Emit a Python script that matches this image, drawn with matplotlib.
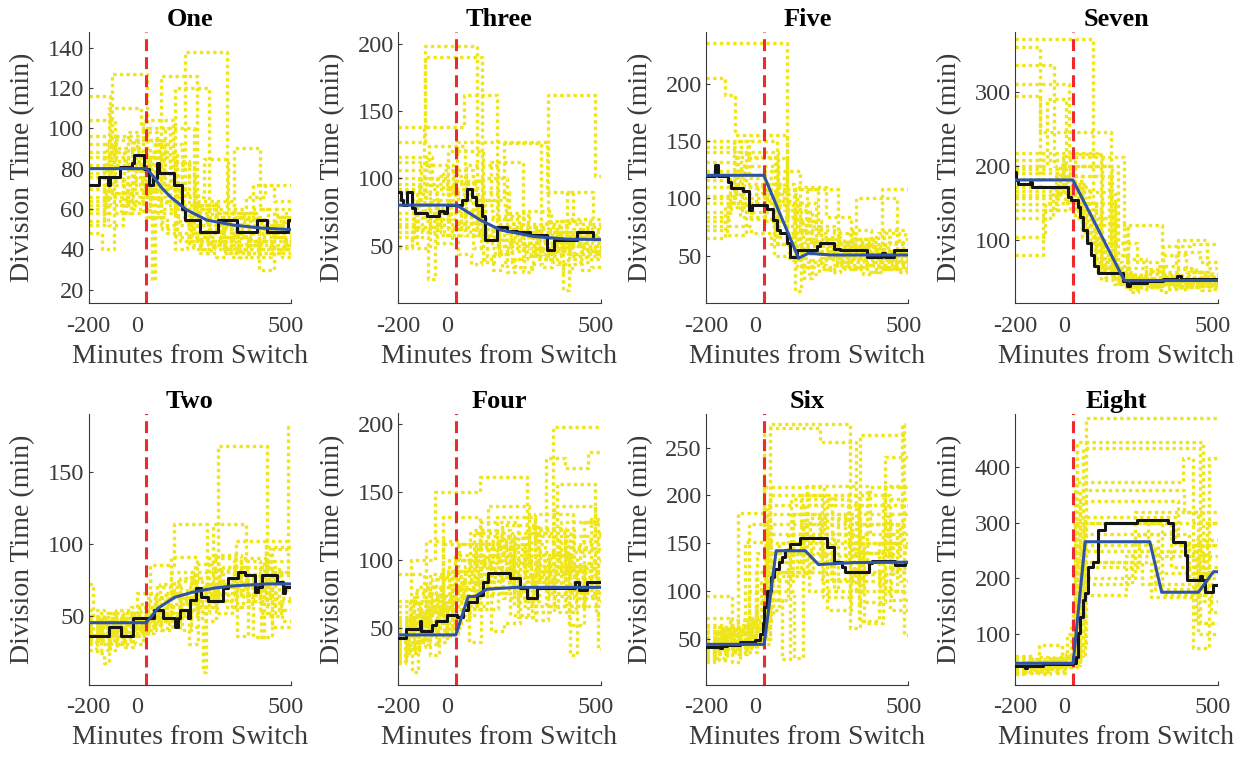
import matplotlib
matplotlib.use('Agg')
import matplotlib.pyplot as plt
import matplotlib.transforms as mtransforms

plt.rcParams['font.family'] = ['Liberation Serif', 'DejaVu Serif']

YELLOW = '#EEE51A'
RED = '#EE2A2F'
BLACK = '#151515'
BLUE = '#2F54A5'
AXCOL = '#3a3a3a'

# panel order: row 1 = One, Three, Five, Seven ; row 2 = Two, Four, Six, Eight
TITLES = ['One', 'Three', 'Five', 'Seven', 'Two', 'Four', 'Six', 'Eight']
YLIMS = [(13.4, 147.7), (7.3, 208.6), (8.6, 245), (14.6, 381),
         (2, 190.6), (8.5, 208), (2, 285.6), (8.8, 497)]
YTICKS = [[20, 40, 60, 80, 100, 120, 140], [50, 100, 150, 200], [50, 100, 150, 200], [100, 200, 300],
          [50, 100, 150], [50, 100, 150, 200], [50, 100, 150, 200, 250], [100, 200, 300, 400]]
XTICKS = [-200, 0, 500]
XTICKLABELS = ['-200', '0', '500']
SWITCH = 0

# single cell division-time traces, (minute, division time) step starts
ONE_CELLS = [
    [(-200, 116), (-124, 96), (-30, 82), (50, 60), (110, 52), (162, 48), (210, 44), (255, 46), (300, 42), (345, 44), (390, 40), (430, 42), (472, 38), (500, 38)],
    [(-200, 104), (-110, 88), (-22, 72), (50, 126), (176, 64), (240, 58), (298, 52), (350, 56), (406, 50), (456, 48), (500, 48)],
    [(-200, 60), (-140, 74), (-66, 64), (-2, 56), (54, 50), (104, 54), (158, 46), (204, 50), (254, 44), (298, 48), (346, 44), (390, 46), (436, 40), (476, 44), (500, 44)],
    [(-200, 48), (-152, 40), (-112, 64), (-48, 70), (20, 25), (30, 92), (122, 58), (180, 60), (240, 52), (292, 36), (328, 58), (386, 54), (440, 60), (500, 60)],
    [(-200, 86), (-118, 127), (2, 66), (68, 62), (130, 56), (186, 62), (248, 54), (302, 90), (392, 60), (452, 56), (500, 56)],
    [(-200, 70), (-130, 110), (-20, 100), (80, 64), (134, 138), (278, 58), (336, 52), (388, 30), (440, 50), (490, 48), (500, 48)],
    [(-200, 96), (-104, 84), (-20, 80), (60, 72), (132, 66), (198, 85), (283, 60), (343, 66), (409, 72), (500, 72)],
    [(-200, 54), (-146, 58), (-88, 62), (-26, 66), (40, 58), (98, 120), (218, 56), (274, 50), (324, 46), (370, 72), (442, 64), (500, 64)],
    [(-200, 78), (-122, 90), (-32, 94), (62, 84), (146, 44), (190, 40), (230, 42), (272, 38), (310, 40), (350, 36), (386, 42), (428, 38), (466, 40), (500, 40)],
    [(-200, 66), (-134, 52), (-82, 76), (-6, 70), (64, 100), (164, 48), (212, 52), (264, 46), (310, 50), (360, 44), (404, 48), (452, 46), (500, 46)],
    [(-200, 92), (-108, 72), (-36, 86), (50, 52), (102, 46), (148, 42), (190, 46), (236, 40), (276, 44), (320, 40), (360, 42), (402, 38), (440, 44), (484, 42), (500, 42)],
    [(-200, 62), (-138, 68), (-70, 58), (-12, 104), (92, 76), (168, 60), (228, 56), (284, 58), (342, 54), (396, 52), (448, 56), (500, 56)],
    [(-200, 72), (-128, 82), (-46, 60), (14, 70), (84, 82), (166, 54), (220, 48), (268, 52), (320, 58), (378, 50), (428, 52), (480, 54), (500, 54)],
    [(-200, 58), (-142, 66), (-76, 90), (14, 56), (70, 48), (118, 44), (162, 40), (202, 38), (240, 36), (276, 42), (318, 36), (354, 40), (394, 36), (430, 38), (468, 36), (500, 36)],
    [(-200, 82), (-118, 68), (-50, 94), (44, 70), (114, 62), (176, 44), (220, 50), (270, 40), (310, 46), (356, 42), (398, 44), (442, 40), (482, 42), (500, 42)],
    [(-200, 52), (-148, 86), (-62, 80), (18, 88), (106, 48), (154, 58), (212, 42), (254, 50), (304, 46), (350, 38), (388, 50), (438, 46), (484, 44), (500, 44)],
    [(-200, 76), (-124, 62), (-62, 98), (36, 64), (100, 56), (156, 52), (208, 60), (268, 46), (314, 52), (366, 48), (414, 54), (468, 50), (500, 50)],
    [(-200, 64), (-136, 94), (-42, 74), (32, 78), (110, 68), (178, 62), (240, 64), (304, 56), (360, 60), (420, 52), (472, 58), (500, 58)],
    [(-200, 88), (-112, 58), (-54, 68), (14, 86), (100, 40), (140, 46), (186, 38), (224, 44), (268, 40), (308, 38), (346, 42), (388, 44), (432, 46), (478, 40), (500, 40)],
]
THREE_CELLS = [
    [(-200, 138), (-107, 198), (72, 60), (132, 54), (186, 50), (236, 56), (292, 46), (338, 52), (390, 44), (434, 48), (482, 50), (500, 50)],
    [(-200, 127), (-107, 190), (89, 56), (145, 50), (195, 48), (243, 44), (287, 58), (345, 46), (391, 50), (441, 42), (483, 46), (500, 46)],
    [(-200, 90), (-110, 138), (28, 162), (141, 66), (207, 60), (267, 54), (321, 60), (381, 52), (433, 56), (489, 48), (500, 48)],
    [(-200, 100), (-100, 96), (3, 127), (315, 90), (405, 66), (471, 62), (500, 62)],
    [(-200, 60), (-140, 74), (-66, 52), (-14, 66), (52, 76), (128, 70), (198, 62), (260, 58), (318, 162), (480, 102), (500, 102)],
    [(-200, 48), (-152, 56), (-96, 25), (-72, 58), (-14, 64), (50, 58), (108, 52), (160, 58), (218, 52), (270, 46), (316, 56), (372, 17), (390, 60), (450, 56), (500, 56)],
    [(-200, 80), (-120, 110), (-10, 88), (78, 70), (148, 46), (194, 40), (234, 34), (268, 42), (310, 40), (350, 36), (386, 44), (430, 38), (468, 40), (500, 40)],
    [(-200, 70), (-130, 64), (-66, 102), (36, 84), (120, 112), (232, 60), (292, 66), (358, 54), (412, 58), (470, 52), (500, 52)],
    [(-200, 116), (-84, 92), (8, 76), (84, 62), (146, 50), (196, 56), (252, 48), (300, 44), (344, 50), (394, 42), (436, 46), (482, 44), (500, 44)],
    [(-200, 56), (-144, 82), (-62, 70), (8, 44), (52, 36), (88, 40), (128, 32), (160, 38), (198, 34), (232, 30), (262, 36), (298, 34), (332, 38), (370, 30), (400, 36), (436, 32), (468, 34), (500, 34)],
    [(-200, 96), (-104, 78), (-26, 120), (94, 80), (174, 74), (248, 64), (312, 68), (380, 60), (440, 64), (500, 64)],
    [(-200, 64), (-136, 48), (-88, 70), (-18, 96), (78, 100), (178, 54), (232, 50), (282, 56), (338, 46), (384, 90), (474, 70), (500, 70)],
    [(-200, 84), (-116, 60), (-56, 74), (18, 66), (84, 84), (168, 126), (294, 60), (354, 48), (402, 52), (454, 46), (500, 46)],
    [(-200, 106), (-94, 124), (30, 58), (88, 48), (136, 44), (180, 52), (232, 42), (274, 48), (322, 42), (364, 46), (410, 40), (450, 44), (494, 42), (500, 42)],
    [(-200, 74), (-126, 100), (-26, 62), (36, 110), (146, 72), (218, 64), (282, 52), (334, 60), (394, 50), (444, 58), (500, 58)],
    [(-200, 112), (-88, 64), (-24, 92), (68, 58), (126, 64), (190, 46), (236, 52), (288, 62), (350, 56), (406, 62), (468, 60), (500, 60)],
    [(-200, 66), (-134, 88), (-46, 106), (60, 48), (108, 42), (150, 62), (212, 66), (278, 40), (318, 44), (362, 68), (430, 50), (480, 48), (500, 48)],
    [(-200, 92), (-108, 68), (-40, 58), (18, 74), (92, 90), (182, 70), (252, 76), (328, 64), (392, 70), (462, 66), (500, 66)],
    [(-200, 50), (-150, 62), (-88, 84), (-4, 98), (94, 38), (132, 44), (176, 30), (206, 40), (246, 46), (292, 40), (332, 52), (384, 56), (440, 54), (494, 50), (500, 50)],
]
FIVE_CELLS = [
    [(-200, 235), (80, 108), (188, 72), (260, 58), (318, 50), (368, 54), (422, 48), (470, 46), (500, 46)],
    [(-200, 205), (-134, 190), (-100, 155), (80, 60), (140, 52), (192, 48), (240, 44), (284, 42), (326, 40), (366, 44), (410, 38), (448, 42), (490, 40), (500, 40)],
    [(-200, 145), (-55, 135), (80, 70), (150, 108), (258, 62), (320, 100), (460, 56), (500, 56)],
    [(-200, 150), (-50, 118), (68, 90), (158, 62), (220, 56), (276, 60), (336, 52), (388, 54), (442, 50), (492, 50), (500, 50)],
    [(-200, 120), (-80, 128), (48, 76), (124, 60), (184, 64), (248, 54), (302, 58), (360, 50), (410, 108), (500, 108)],
    [(-200, 100), (-100, 110), (10, 98), (108, 19), (127, 58), (185, 52), (237, 56), (293, 48), (341, 46), (387, 52), (439, 44), (483, 46), (500, 46)],
    [(-200, 65), (-135, 92), (-43, 82), (39, 66), (105, 48), (153, 44), (197, 40), (237, 42), (279, 38), (317, 40), (357, 36), (393, 40), (433, 38), (471, 36), (500, 36)],
    [(-200, 88), (-112, 104), (-8, 112), (104, 56), (160, 44), (204, 48), (252, 46), (298, 72), (370, 60), (430, 54), (484, 52), (500, 52)],
    [(-200, 132), (-68, 100), (32, 84), (116, 40), (156, 34), (190, 38), (228, 36), (264, 40), (304, 38), (342, 34), (376, 36), (412, 40), (452, 38), (490, 36), (500, 36)],
    [(-200, 110), (-90, 140), (50, 94), (144, 70), (214, 64), (278, 56), (334, 62), (396, 70), (466, 60), (500, 60)],
    [(-200, 80), (-120, 76), (-44, 70), (26, 60), (86, 52), (138, 30), (168, 46), (214, 50), (264, 44), (308, 48), (356, 42), (398, 46), (444, 44), (488, 42), (500, 42)],
    [(-200, 124), (-76, 88), (12, 104), (116, 80), (196, 66), (262, 50), (312, 56), (368, 48), (416, 72), (488, 64), (500, 64)],
    [(-200, 96), (-104, 150), (46, 60), (106, 110), (216, 84), (300, 60), (360, 58), (418, 62), (480, 56), (500, 56)],
    [(-200, 72), (-128, 68), (-60, 96), (36, 50), (86, 46), (132, 40), (172, 42), (214, 38), (252, 44), (296, 40), (336, 42), (378, 38), (416, 42), (458, 40), (500, 40)],
    [(-200, 140), (-60, 112), (52, 82), (134, 62), (196, 54), (250, 50), (300, 44), (344, 58), (402, 46), (448, 52), (500, 52)],
    [(-200, 84), (-116, 120), (4, 80), (84, 96), (180, 60), (240, 50), (290, 64), (354, 56), (410, 48), (458, 44), (500, 44)],
    [(-200, 116), (-84, 84), (0, 124), (124, 72), (196, 58), (254, 62), (316, 54), (370, 66), (436, 60), (500, 60)],
    [(-200, 102), (-98, 136), (38, 70), (108, 64), (172, 54), (226, 60), (286, 46), (332, 52), (384, 44), (428, 50), (478, 48), (500, 48)],
    [(-200, 76), (-124, 96), (-28, 108), (80, 88), (168, 76), (244, 70), (314, 64), (378, 56), (434, 54), (500, 54)],
]
SEVEN_CELLS = [
    [(-200, 372), (70, 120), (190, 52), (242, 44), (286, 40), (326, 44), (370, 42), (412, 38), (450, 40), (500, 40)],
    [(-200, 361), (-115, 246), (131, 64), (195, 48), (243, 44), (287, 40), (327, 42), (369, 38), (407, 42), (449, 40), (500, 40)],
    [(-200, 336), (-64, 200), (136, 52), (188, 120), (308, 56), (364, 100), (464, 62), (500, 62)],
    [(-200, 311), (-12, 216), (100, 60), (160, 44), (204, 36), (240, 40), (280, 38), (318, 42), (360, 36), (396, 40), (436, 38), (474, 36), (500, 36)],
    [(-200, 295), (-115, 172), (57, 140), (97, 46), (143, 40), (183, 34), (217, 38), (255, 36), (291, 40), (331, 38), (369, 34), (403, 36), (439, 40), (479, 38), (500, 38)],
    [(-200, 217), (99, 70), (169, 50), (219, 46), (265, 48), (313, 91), (404, 95), (500, 95)],
    [(-200, 200), (-90, 290), (-22, 180), (40, 150), (80, 58), (138, 52), (190, 44), (234, 48), (282, 42), (324, 46), (370, 44), (414, 48), (462, 44), (500, 44)],
    [(-200, 129), (-70, 170), (0, 140), (50, 110), (80, 74), (154, 52), (206, 48), (254, 42), (296, 46), (342, 44), (386, 42), (428, 44), (472, 40), (500, 40)],
    [(-200, 104), (-96, 150), (-20, 160), (20, 130), (60, 96), (98, 62), (160, 54), (214, 50), (264, 46), (310, 80), (390, 56), (446, 52), (500, 52)],
    [(-200, 80), (-103, 140), (-10, 168), (32, 120), (84, 70), (154, 42), (196, 38), (234, 34), (268, 36), (304, 30), (334, 34), (368, 38), (406, 36), (442, 32), (474, 34), (500, 34)],
    [(-200, 160), (-40, 176), (30, 136), (72, 90), (110, 50), (160, 44), (204, 40), (244, 46), (290, 42), (332, 40), (372, 46), (418, 42), (460, 44), (500, 44)],
    [(-200, 190), (-10, 156), (44, 120), (90, 80), (130, 60), (190, 36), (226, 48), (274, 40), (314, 46), (360, 50), (410, 44), (454, 46), (500, 46)],
    [(-200, 148), (-52, 186), (30, 104), (76, 64), (140, 56), (196, 30), (226, 42), (268, 38), (306, 44), (350, 40), (390, 44), (434, 42), (476, 40), (500, 40)],
    [(-200, 172), (-28, 150), (30, 110), (70, 100), (110, 80), (190, 62), (252, 58), (310, 54), (364, 60), (424, 56), (480, 52), (500, 52)],
    [(-200, 196), (-4, 150), (146, 48), (194, 44), (238, 40), (278, 46), (324, 42), (366, 40), (406, 44), (450, 46), (500, 42)],
    [(-200, 182), (-18, 164), (146, 56), (202, 52), (254, 56), (310, 48), (358, 52), (410, 56), (466, 50), (500, 50)],
    [(-200, 208), (8, 130), (138, 60), (198, 50), (248, 54), (302, 50), (352, 46), (398, 50), (448, 48), (500, 48)],
    [(-200, 156), (-44, 200), (156, 40), (196, 36), (232, 44), (276, 38), (314, 40), (354, 36), (390, 42), (432, 38), (470, 40), (500, 40)],
    [(-200, 140), (-60, 186), (126, 96), (222, 70), (292, 64), (356, 84), (440, 70), (500, 70)],
    [(-200, 166), (-34, 212), (178, 74), (252, 60), (312, 52), (364, 62), (426, 56), (482, 54), (500, 54)],
]
TWO_CELLS = [
    [(-200, 72), (-186, 36), (-150, 44), (-106, 30), (-76, 40), (-36, 48), (12, 85), (97, 114), (211, 62), (248, 168), (416, 50), (466, 60), (500, 60)],
    [(-200, 40), (-160, 48), (-112, 36), (-76, 42), (-34, 66), (32, 52), (84, 91), (175, 56), (231, 114), (345, 70), (415, 102), (500, 102)],
    [(-200, 30), (-170, 24), (-146, 17), (-129, 32), (-97, 44), (-53, 38), (-15, 50), (35, 62), (97, 74), (171, 64), (235, 80), (315, 36), (351, 84), (435, 42), (500, 42)],
    [(-200, 50), (-150, 46), (-104, 54), (-50, 40), (-10, 44), (34, 58), (92, 48), (140, 70), (210, 66), (276, 70), (346, 78), (424, 62), (500, 62)],
    [(-200, 44), (-156, 34), (-122, 48), (-74, 28), (-46, 46), (0, 56), (56, 46), (102, 52), (154, 42), (196, 11), (207, 72), (279, 56), (335, 74), (409, 66), (475, 70), (500, 70)],
    [(-200, 36), (-164, 52), (-112, 30), (-82, 38), (-44, 52), (8, 44), (52, 64), (116, 40), (156, 80), (236, 92), (328, 64), (392, 80), (488, 181), (500, 181)],
    [(-200, 54), (-146, 42), (-104, 36), (-68, 50), (-18, 40), (22, 48), (70, 66), (136, 58), (194, 46), (240, 82), (322, 76), (398, 35), (433, 96), (500, 96)],
    [(-200, 26), (-174, 38), (-136, 46), (-90, 34), (-56, 44), (-12, 38), (26, 52), (78, 44), (122, 62), (184, 56), (240, 64), (304, 88), (392, 52), (444, 80), (500, 80)],
    [(-200, 48), (-152, 30), (-122, 40), (-82, 52), (-30, 36), (6, 42), (48, 72), (120, 54), (174, 76), (250, 60), (310, 102), (412, 58), (470, 46), (500, 46)],
    [(-200, 34), (-166, 40), (-126, 26), (-100, 48), (-52, 56), (4, 46), (50, 40), (90, 58), (148, 30), (178, 66), (244, 52), (296, 74), (370, 35), (405, 88), (500, 88)],
    [(-200, 42), (-158, 26), (-132, 52), (-80, 44), (-36, 40), (4, 62), (66, 50), (116, 76), (192, 72), (264, 84), (348, 60), (408, 74), (482, 68), (500, 68)],
    [(-200, 32), (-168, 44), (-124, 40), (-84, 30), (-54, 36), (-18, 54), (36, 70), (106, 62), (168, 86), (254, 74), (328, 90), (418, 78), (500, 78)],
    [(-200, 46), (-154, 36), (-118, 50), (-68, 42), (-26, 58), (32, 40), (72, 56), (128, 50), (178, 60), (238, 72), (310, 56), (366, 62), (428, 98), (500, 98)],
    [(-200, 38), (-162, 32), (-130, 42), (-88, 48), (-40, 30), (-10, 50), (40, 46), (86, 80), (166, 52), (218, 90), (308, 66), (374, 84), (458, 54), (500, 54)],
]
FOUR_CELLS = [
    [(-200, 44), (-156, 100), (-73, 150), (83, 161), (245, 90), (335, 198), (500, 198)],
    [(-200, 56), (-144, 36), (-108, 64), (-44, 132), (83, 110), (193, 120), (313, 175), (376, 168), (457, 180), (500, 180)],
    [(-200, 38), (-162, 60), (-102, 114), (12, 100), (112, 140), (252, 96), (348, 156), (480, 120), (500, 120)],
    [(-200, 30), (-170, 50), (-120, 70), (-50, 82), (32, 96), (128, 110), (238, 88), (326, 104), (396, 30), (419, 84), (500, 84)],
    [(-200, 24), (-176, 46), (-130, 62), (-68, 88), (20, 72), (92, 104), (196, 78), (274, 120), (394, 96), (490, 35), (500, 35)],
    [(-200, 50), (-150, 18), (-132, 42), (-90, 56), (-34, 76), (42, 66), (108, 88), (196, 112), (308, 92), (400, 106), (500, 106)],
    [(-200, 62), (-138, 40), (-98, 54), (-44, 112), (68, 94), (162, 72), (234, 118), (352, 62), (414, 76), (500, 76)],
    [(-200, 90), (-110, 70), (-40, 46), (6, 58), (64, 122), (186, 98), (284, 80), (364, 128), (492, 70), (500, 70)],
    [(-200, 34), (-166, 44), (-122, 52), (-70, 40), (-30, 60), (30, 84), (114, 102), (216, 58), (274, 66), (340, 90), (430, 114), (500, 114)],
    [(-200, 46), (-154, 58), (-96, 38), (-58, 66), (8, 112), (120, 48), (168, 54), (222, 100), (322, 74), (396, 88), (484, 60), (500, 60)],
    [(-200, 28), (-172, 36), (-136, 48), (-88, 30), (-58, 44), (-14, 92), (78, 80), (158, 126), (284, 106), (390, 52), (442, 128), (500, 128)],
    [(-200, 66), (-134, 80), (-54, 50), (-4, 104), (100, 94), (194, 84), (278, 62), (340, 140), (480, 90), (500, 90)],
    [(-200, 40), (-160, 32), (-128, 56), (-72, 48), (-24, 70), (46, 40), (86, 114), (200, 76), (276, 104), (380, 66), (446, 98), (500, 98)],
    [(-200, 52), (-148, 62), (-86, 74), (-12, 56), (44, 98), (142, 132), (274, 114), (388, 78), (466, 100), (500, 100)],
    [(-200, 36), (-164, 40), (-124, 66), (-58, 54), (-4, 86), (82, 118), (200, 66), (266, 92), (358, 110), (468, 130), (500, 130)],
    [(-200, 58), (-142, 50), (-92, 80), (-12, 62), (50, 74), (124, 92), (216, 70), (286, 122), (408, 72), (480, 80), (500, 80)],
    [(-200, 42), (-158, 70), (-88, 90), (2, 78), (80, 64), (144, 116), (260, 84), (344, 96), (440, 66), (500, 66)],
    [(-200, 48), (-152, 54), (-98, 66), (-32, 50), (18, 90), (108, 76), (184, 108), (292, 84), (376, 92), (468, 112), (500, 112)],
    [(-200, 32), (-168, 58), (-110, 46), (-64, 72), (8, 80), (88, 128), (216, 96), (312, 66), (378, 118), (500, 118)],
    [(-200, 70), (-130, 44), (-86, 62), (-24, 100), (76, 112), (188, 60), (248, 86), (334, 76), (410, 92), (500, 92)],
    [(-200, 26), (-174, 34), (-140, 58), (-82, 86), (4, 64), (68, 84), (152, 100), (252, 124), (376, 94), (470, 72), (500, 72)],
    [(-200, 54), (-146, 76), (-70, 64), (-6, 72), (66, 108), (174, 88), (262, 56), (318, 102), (420, 86), (500, 86)],
    [(-200, 44), (-156, 52), (-104, 60), (-44, 92), (48, 120), (168, 104), (272, 134), (406, 108), (500, 108)],
]
SIX_CELLS = [
    [(-200, 95), (-111, 60), (-51, 44), (-7, 50), (22, 275), (297, 61), (333, 263), (500, 263)],
    [(-200, 72), (-117, 54), (-88, 181), (-1, 270), (195, 256), (318, 100), (418, 240), (500, 240)],
    [(-200, 40), (-160, 52), (-108, 44), (-64, 151), (-1, 209), (208, 160), (368, 209), (500, 209)],
    [(-200, 34), (-166, 30), (-136, 46), (-90, 38), (-52, 170), (10, 120), (130, 200), (330, 68), (398, 150), (478, 275), (484, 54), (500, 54)],
    [(-200, 50), (-150, 40), (-110, 26), (-84, 56), (-28, 90), (62, 29), (91, 140), (231, 112), (343, 160), (500, 160)],
    [(-200, 46), (-154, 62), (-92, 34), (-58, 48), (-10, 110), (100, 180), (280, 120), (400, 100), (500, 100)],
    [(-200, 30), (-170, 44), (-126, 58), (-68, 42), (-26, 80), (54, 150), (204, 94), (298, 130), (428, 180), (500, 180)],
    [(-200, 58), (-142, 36), (-106, 50), (-56, 60), (4, 100), (104, 30), (134, 170), (304, 140), (444, 120), (500, 120)],
    [(-200, 38), (-162, 48), (-114, 70), (-44, 52), (8, 130), (138, 190), (328, 110), (438, 90), (500, 90)],
    [(-200, 44), (-156, 28), (-128, 40), (-88, 64), (-24, 140), (116, 120), (236, 200), (436, 80), (500, 80)],
    [(-200, 26), (-174, 50), (-124, 38), (-86, 46), (-40, 66), (26, 170), (196, 150), (346, 66), (412, 196), (500, 196)],
    [(-200, 52), (-148, 46), (-102, 60), (-42, 74), (32, 116), (148, 210), (358, 130), (500, 130)],
    [(-200, 42), (-158, 34), (-124, 54), (-70, 62), (-8, 90), (82, 160), (242, 100), (342, 140), (500, 140)],
    [(-200, 36), (-164, 56), (-108, 48), (-60, 36), (-24, 44), (20, 200), (220, 80), (300, 170), (470, 110), (500, 110)],
    [(-200, 64), (-136, 42), (-94, 50), (-44, 58), (14, 180), (194, 136), (330, 88), (418, 210), (500, 210)],
    [(-200, 48), (-152, 60), (-92, 46), (-46, 54), (8, 150), (158, 176), (334, 150), (500, 150)],
    [(-200, 32), (-168, 40), (-128, 62), (-66, 40), (-26, 120), (94, 196), (290, 170), (460, 100), (500, 100)],
    [(-200, 56), (-144, 44), (-100, 34), (-66, 70), (4, 160), (164, 130), (294, 190), (500, 190)],
    [(-200, 40), (-160, 58), (-102, 46), (-56, 66), (10, 190), (200, 110), (310, 150), (460, 170), (500, 170)],
    [(-200, 62), (-138, 48), (-90, 40), (-50, 100), (50, 120), (170, 160), (330, 118), (448, 146), (500, 146)],
    [(-200, 28), (-172, 36), (-136, 50), (-86, 42), (-44, 60), (16, 140), (156, 100), (256, 180), (436, 124), (500, 124)],
]
EIGHT_CELLS = [
    [(-200, 42), (-158, 50), (-108, 36), (-72, 44), (-28, 52), (24, 80), (47, 488), (500, 488)],
    [(-200, 36), (-164, 44), (-120, 30), (-90, 48), (-42, 56), (14, 446), (451, 190), (500, 190)],
    [(-200, 48), (-152, 40), (-112, 52), (-60, 34), (-26, 60), (34, 434), (440, 120), (500, 120)],
    [(-200, 30), (-170, 42), (-128, 58), (-70, 46), (-24, 40), (6, 374), (382, 416), (417, 74), (469, 416), (500, 416)],
    [(-200, 56), (-144, 34), (-110, 46), (-64, 40), (-24, 48), (24, 360), (384, 320), (500, 320)],
    [(-200, 44), (-156, 38), (-118, 80), (-38, 46), (8, 300), (308, 170), (478, 140), (500, 140)],
    [(-200, 40), (-160, 52), (-108, 28), (-80, 42), (-38, 46), (8, 220), (228, 280), (400, 200), (500, 200)],
    [(-200, 34), (-166, 46), (-120, 40), (-80, 54), (-26, 40), (14, 170), (184, 240), (424, 119), (500, 119)],
    [(-200, 52), (-148, 42), (-106, 36), (-70, 50), (-20, 44), (24, 260), (284, 180), (464, 300), (500, 300)],
    [(-200, 38), (-162, 30), (-132, 48), (-84, 40), (-44, 58), (14, 200), (214, 320), (434, 100), (500, 100)],
    [(-200, 46), (-154, 54), (-100, 44), (-56, 30), (-26, 50), (24, 340), (364, 260), (500, 260)],
    [(-200, 28), (-172, 36), (-136, 44), (-92, 52), (-40, 40), (0, 140), (40, 230), (270, 166), (436, 240), (500, 240)],
    [(-200, 60), (-140, 44), (-96, 38), (-58, 50), (-8, 120), (40, 300), (340, 220), (500, 220)],
    [(-200, 42), (-158, 46), (-112, 34), (-78, 44), (-34, 48), (14, 190), (204, 250), (454, 160), (500, 160)],
    [(-200, 50), (-150, 40), (-110, 32), (-78, 46), (-32, 42), (10, 250), (260, 300), (500, 300)],
    [(-200, 36), (-164, 48), (-116, 42), (-74, 38), (-36, 52), (16, 280), (296, 210), (500, 210)],
    [(-200, 44), (-156, 32), (-124, 46), (-78, 56), (-22, 64), (42, 310), (352, 260), (500, 260)],
    [(-200, 58), (-142, 46), (-96, 40), (-56, 36), (-20, 100), (10, 230), (240, 190), (430, 270), (500, 270)],
]

# population mean (black steps)
ONE_MEAN = [(-200, 72), (-164, 76), (-131, 72), (-126, 76), (-90, 81), (-50, 83), (-44, 86.5), (-7, 80), (10, 72), (22, 75.5), (38, 83), (44, 77.7),
            (94, 72), (123, 60), (134, 54.6), (184, 48.8), (249, 54.6), (313, 48.8), (382, 54.6), (416, 48.8), (491, 54.6), (500, 54.6)]
THREE_MEAN = [(-200, 90), (-190, 84), (-182, 80), (-168, 90), (-152, 78), (-140, 74), (-100, 72), (-60, 76), (-40, 74), (-30, 80), (10, 80), (20, 84),
              (37, 92), (55, 86), (70, 80), (90, 72), (101, 54), (141, 64), (176, 61), (211, 60), (257, 58), (315, 47), (340, 54), (420, 60), (475, 55), (500, 55)]
FIVE_MEAN = [(-200, 119), (-169, 129), (-157, 119), (-123, 114), (-112, 109), (-71, 106), (-53, 90), (-42, 94), (10, 91), (33, 81), (45, 72), (56, 69.5),
             (80, 61), (91, 49), (114, 55), (183, 58), (195, 61), (241, 56), (264, 55), (357, 49), (410, 52), (420, 49), (449, 55), (500, 55)]
SEVEN_MEAN = [(-200, 192), (-195, 181), (-190, 176), (-149, 178), (-140, 172), (-22, 171), (-16, 158), (-5, 154), (18, 145), (24, 131), (36, 113), (48, 96),
              (62, 80), (74, 64), (87, 55), (174, 44), (186, 37), (197, 42), (255, 44), (313, 47), (359, 51), (375, 47), (500, 47)]
TWO_MEAN = [(-200, 36), (-128, 42), (-88, 36), (-47, 48), (28, 54), (57, 48), (98, 42), (108, 48), (115, 54), (144, 48), (150, 61), (173, 69), (190, 63),
            (214, 60), (266, 69), (283, 76), (318, 80.6), (341, 78), (376, 66.7), (387, 70), (399, 78), (451, 73.6), (474, 66), (480, 70), (500, 70)]
FOUR_MEAN = [(-200, 43), (-171, 49), (-130, 49), (-125, 55), (-119, 48), (-84, 52.5), (-67, 55.6), (-32, 60), (3, 58), (26, 63.5), (43, 69.6), (72, 74.5),
             (95, 84), (112, 90.4), (188, 86.8), (222, 79.4), (245, 72), (280, 79.4), (413, 84), (425, 78), (454, 84), (500, 84)]
SIX_MEAN = [(-200, 41), (-150, 40), (-145, 42), (-128, 43), (-82, 46.5), (-30, 49), (-13, 55), (-4, 66), (1, 83), (12, 100), (23, 114), (35, 123), (51, 130),
            (62, 135.5), (74, 142.5), (91, 149.5), (126, 155.8), (218, 146), (241, 130), (270, 125), (281, 120), (362, 129), (374, 131), (455, 127), (489, 130), (500, 130)]
EIGHT_MEAN = [(-200, 43), (-165, 38), (-160, 43), (-103, 45.5), (1, 47), (12, 59), (18, 101), (24, 131), (36, 161), (42, 173), (53, 221), (70, 230),
              (87.5, 287), (111, 300), (220, 306), (330, 300), (347, 266), (388, 242), (394, 197), (440, 205), (445, 197), (457, 176), (486, 188), (500, 188)]

# model fit (blue)
ONE_FIT = [(-200, 80), (0, 80), (25, 76), (50, 71), (83, 66), (140, 59.5), (209, 54.5), (301, 52), (400, 50.5), (500, 49.8)]
THREE_FIT = [(-200, 80), (3, 80), (84, 69), (153, 61.6), (269, 56.7), (384, 54.7), (500, 54.5)]
FIVE_FIT = [(-200, 120), (0, 120), (120, 47.7), (154, 52), (230, 50.5), (500, 50.5)]
SEVEN_FIT = [(-200, 181), (0, 181), (178, 45), (500, 45)]
TWO_FIT = [(-200, 45), (0, 45), (40, 55), (98, 62.7), (156, 66), (231, 69), (300, 70.6), (416, 72), (500, 72)]
FOUR_FIT = [(-200, 45), (0, 45), (43, 73.3), (66, 73.3), (107, 78.7), (211, 80), (500, 80)]
SIX_FIT = [(-200, 44), (1, 44), (42.5, 142), (143, 142), (189, 127.5), (310, 129.6), (500, 130)]
EIGHT_FIT = [(-200, 47), (1, 47), (42.5, 266), (266, 266), (307, 175), (434, 175), (486, 212), (500, 212)]

CELLS = [ONE_CELLS, THREE_CELLS, FIVE_CELLS, SEVEN_CELLS, TWO_CELLS, FOUR_CELLS, SIX_CELLS, EIGHT_CELLS]
MEANS = [ONE_MEAN, THREE_MEAN, FIVE_MEAN, SEVEN_MEAN, TWO_MEAN, FOUR_MEAN, SIX_MEAN, EIGHT_MEAN]
FITS = [ONE_FIT, THREE_FIT, FIVE_FIT, SEVEN_FIT, TWO_FIT, FOUR_FIT, SIX_FIT, EIGHT_FIT]

W, H = 1247, 759
fig = plt.figure(figsize=(W / 100, H / 100), dpi=100)

lefts = [88.5, 398, 706, 1015]
tops = [32, 413.5]
aw, ah = 202.5, 271


def draw_panel(ax, title, cells, mean, fit, ylim, yticks):
    for cell in cells:
        t, v = zip(*cell)
        ax.plot(t, v, color=YELLOW, lw=2.4, dashes=(1, 1), dash_capstyle='butt',
                drawstyle='steps-post', zorder=1)
    ax.axvline(SWITCH, color=RED, lw=2.2, dashes=(3.9, 2.0), zorder=2)
    t, v = zip(*mean)
    ax.plot(t, v, color=BLACK, lw=2.2, drawstyle='steps-post', zorder=3)
    t, v = zip(*fit)
    ax.plot(t, v, color=BLUE, lw=2.2, zorder=4)

    ax.set_xlim(-200, 500)
    ax.set_ylim(*ylim)
    ax.set_yticks(yticks)
    ax.set_xticks(XTICKS)
    ax.set_xticklabels(XTICKLABELS)
    for sp in ['top', 'right']:
        ax.spines[sp].set_visible(False)
    for sp in ['left', 'bottom']:
        ax.spines[sp].set_color(AXCOL)
        ax.spines[sp].set_linewidth(0.8)
    ax.tick_params(direction='in', length=3, width=0.8, colors=AXCOL, labelsize=17.5)
    ax.tick_params(axis='x', pad=9)
    ax.tick_params(axis='y', pad=3)
    ax.set_title(title, fontsize=19, fontweight='bold', pad=4)
    ax.set_ylabel('Division Time (min)', fontsize=20, color=AXCOL)
    ax.set_xlabel('Minutes from Switch', fontsize=20, color=AXCOL)
    ax.yaxis.set_label_coords(-0.262, 0.5)
    ax.xaxis.set_label_coords(0.5, -0.15)
    # MATLAB-like placement of the "0" and "500" labels
    for lab, dx in zip(ax.get_xticklabels(), [0, -9, -5]):
        lab.set_transform(lab.get_transform() + mtransforms.ScaledTranslation(dx / 100, 0, fig.dpi_scale_trans))


for i in range(8):
    r, c = divmod(i, 4)
    ax = fig.add_axes([lefts[c] / W, 1 - (tops[r] + ah) / H, aw / W, ah / H])
    draw_panel(ax, TITLES[i], CELLS[i], MEANS[i], FITS[i], YLIMS[i], YTICKS[i])

fig.savefig('out.png', dpi=100)
